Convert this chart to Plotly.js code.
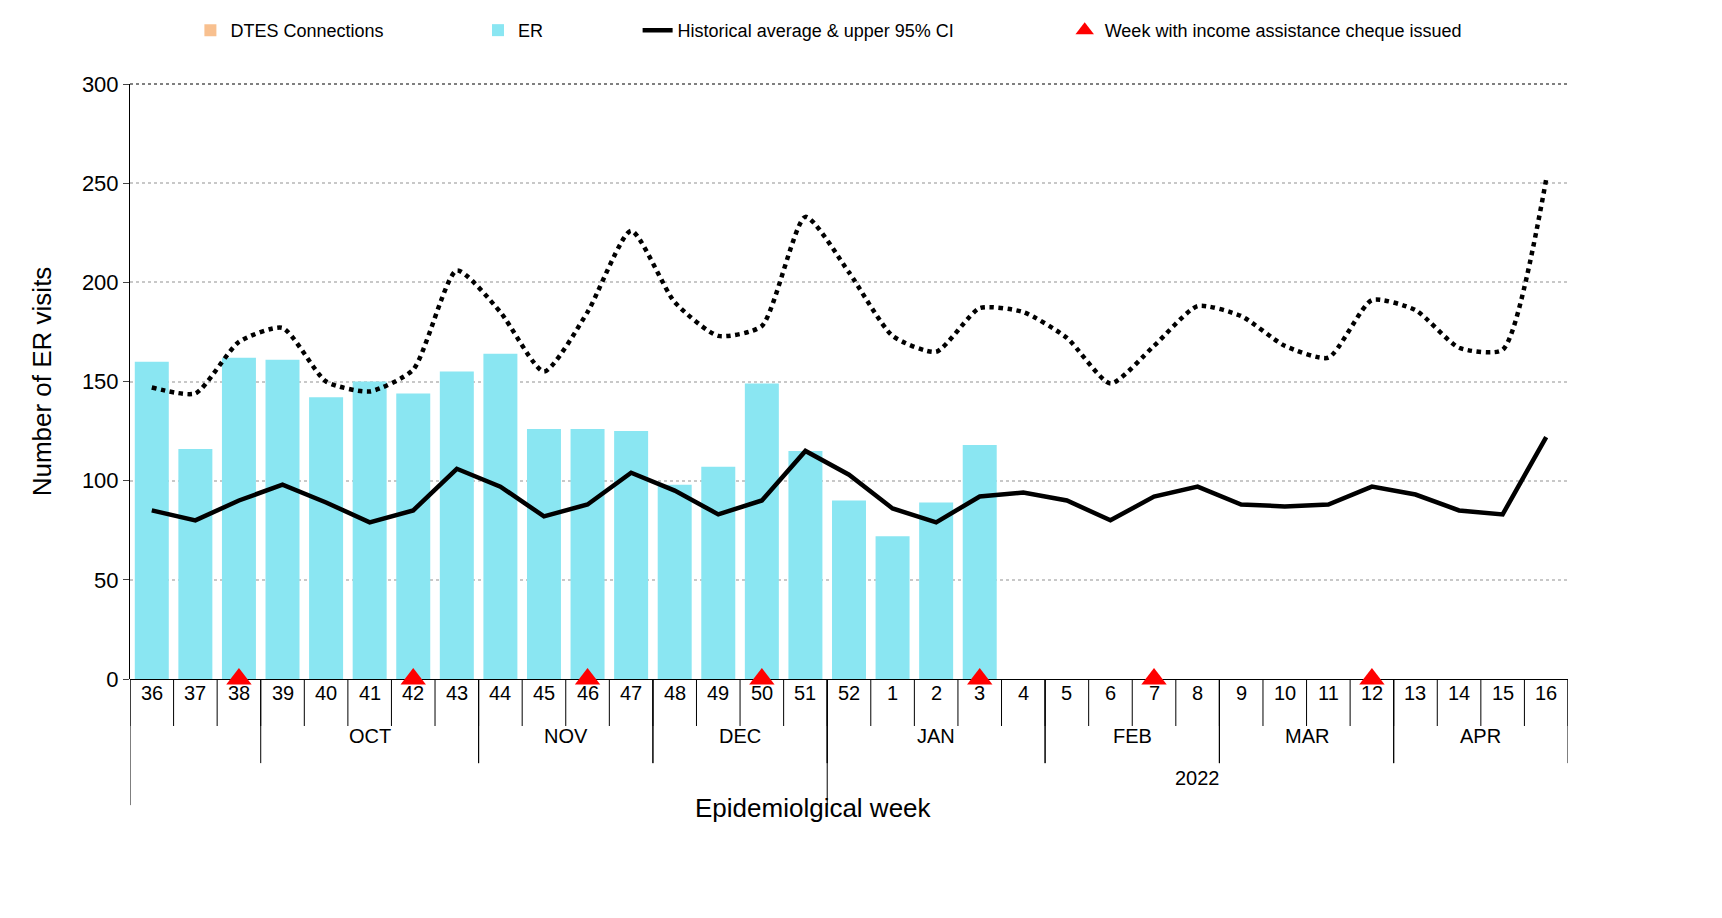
<!DOCTYPE html>
<html>
<head>
<meta charset="utf-8">
<script src="https://cdn.plot.ly/plotly-3.0.1.min.js"></script>
<style>body{margin:0;background:#fff}#plot{width:1722px;height:918px}</style>
</head>
<body>
<div id="plot"></div>
<script>
// epidemiological weeks (Sep 2021 - Apr 2022)
const weeks = [36,37,38,39,40,41,42,43,44,45,46,47,48,49,50,51,52,1,2,3,4,5,6,7,8,9,10,11,12,13,14,15,16];
const erVisits = [160,116,162,161,142,150,144,155,164,126,126,125,98,107,149,115,90,72,89,118];
const histAvg = [85,80,90,98,89,79,85,106,97,82,88,104,95,83,90,115,103,86,79,92,94,90,80,92,97,88,87,88,97,93,85,83,122];
const upperCI = [147,144,170,177,150,145,156,206,185,155,185,226,190,173,178,233,205,173,165,187,185,172,149,168,188,183,168,162,191,186,167,166,252];
const chequeWeeks = [38,42,46,50,3,7,12];
const months = [['OCT',39,43],['NOV',44,47],['DEC',48,51],['JAN',52,4],['FEB',5,8],['MAR',9,12],['APR',13,16]];

const idx = weeks.map((w, i) => i);
const idxOf = w => weeks.indexOf(w);

let traces = [
    {x: [null], y: [null], type: 'bar', name: 'DTES Connections', marker: {color: '#f8c08f'}, legend: 'legend'},
    {x: idx.slice(0, erVisits.length), y: erVisits, type: 'bar', name: 'ER', marker: {color: '#8ae6f2'}, legend: 'legend2'},
    {x: idx, y: histAvg, type: 'scatter', mode: 'lines', name: 'Historical average & upper 95% CI',
        line: {color: 'black', width: 4.5}, legend: 'legend3'},
    {x: idx, y: upperCI, type: 'scatter', mode: 'lines', showlegend: false,
        line: {color: 'black', width: 4.5, dash: 'dot', shape: 'spline', smoothing: 0.6}},
    {x: chequeWeeks.map(idxOf), y: chequeWeeks.map(() => 0), type: 'scatter', mode: 'markers', cliponaxis: false,
        name: 'Week with income assistance cheque issued', legend: 'legend4',
        marker: {symbol: 'triangle-up', color: 'red', size: 22}}
];

let shapes = [];
let annotations = [];
const yRow = -0.079, yMonth = -0.1414, yYear = -0.212;
function vline(x, y0) {
    shapes.push({type: 'line', xref: 'x', yref: 'paper', x0: x, x1: x, y0: 0, y1: y0, line: {color: 'black', width: 1}});
}
for (let i = 0; i <= weeks.length; i++) vline(i - 0.5, yRow);
vline(-0.5, yYear);
vline(idxOf(51) + 0.5, yYear);
for (let m of months) {
    vline(idxOf(m[1]) - 0.5, yMonth);
    vline(idxOf(m[2]) + 0.5, yMonth);
    annotations.push({xref: 'x', yref: 'paper', x: (idxOf(m[1]) + idxOf(m[2])) / 2, y: -0.117,
        text: m[0], showarrow: false, font: {size: 20}});
}
weeks.forEach((w, i) => annotations.push({xref: 'x', yref: 'paper', x: i, y: -0.045, text: String(w),
    showarrow: false, font: {size: 20}}));
annotations.push({xref: 'x', yref: 'paper', x: (idxOf(52) + 32) / 2, y: -0.1875, text: '2022', showarrow: false, font: {size: 20}});
annotations.push({xref: 'paper', yref: 'paper', x: 0.475, y: -0.188, yanchor: 'top', text: 'Epidemiolgical week', showarrow: false, font: {size: 26}});
shapes.push({type: 'line', xref: 'paper', yref: 'paper', x0: 0, x1: 1, y0: 1, y1: 1, line: {color: 'black', width: 1, dash: 'dot'}});

function legendAt(x) {
    return {orientation: 'h', x: x, y: 1.09, yanchor: 'middle', font: {size: 18}, bgcolor: 'rgba(0,0,0,0)'};
}

let layout = {
    width: 1722, height: 918,
    margin: {l: 130, r: 154, t: 71, b: 239},
    font: {family: 'Liberation Sans, Arial', color: 'black'},
    plot_bgcolor: 'white', paper_bgcolor: 'white',
    bargap: 0.22,
    showlegend: true,
    legend: legendAt(0.042),
    legend2: legendAt(0.242),
    legend3: legendAt(0.353),
    legend4: legendAt(0.65),
    xaxis: {range: [-0.5, 32.5], showticklabels: false, showgrid: false, zeroline: false, showline: false, fixedrange: true},
    yaxis: {range: [0, 300], dtick: 50, showline: true, linecolor: 'black', ticks: 'outside', ticklen: 6,
        gridcolor: '#c8c8c8', griddash: 'dot', gridwidth: 2, zeroline: true, zerolinecolor: 'black', zerolinewidth: 1,
        tickfont: {size: 22},
        title: {text: 'Number of ER visits', font: {size: 26}, standoff: 22}},
    shapes: shapes,
    annotations: annotations
};

Plotly.newPlot('plot', traces, layout, {displayModeBar: false});
</script>
</body>
</html>
